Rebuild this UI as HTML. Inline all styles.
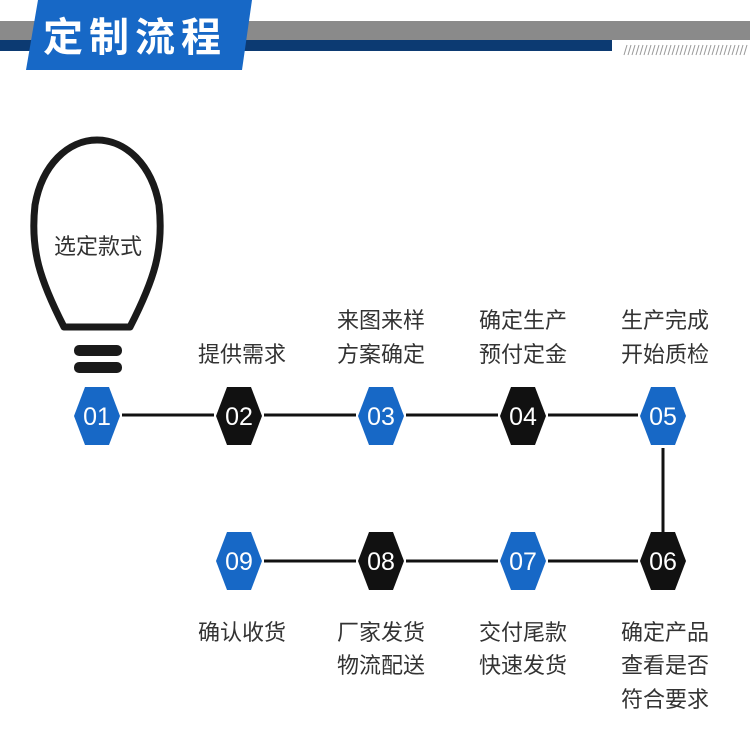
<!DOCTYPE html>
<html><head><meta charset="utf-8"><style>
body{margin:0;background:#fff;}
svg{display:block}
text{font-family:"Liberation Sans","Noto Sans CJK SC",sans-serif;}
</style></head><body>
<svg width="750" height="750" viewBox="0 0 750 750" xmlns="http://www.w3.org/2000/svg">
<rect x="0" y="21" width="750" height="19" fill="#8a8a8a"/>
<rect x="0" y="40" width="612" height="11" fill="#0c3a72"/>
<g stroke="#999" stroke-width="1">
<path d="M624 55 L627 45 M628 55 L631 45 M632 55 L635 45 M636 55 L639 45 M640 55 L643 45 M644 55 L647 45 M648 55 L651 45 M652 55 L655 45 M656 55 L659 45 M660 55 L663 45 M664 55 L667 45 M668 55 L671 45 M672 55 L675 45 M676 55 L679 45 M680 55 L683 45 M684 55 L687 45 M688 55 L691 45 M692 55 L695 45 M696 55 L699 45 M700 55 L703 45 M704 55 L707 45 M708 55 L711 45 M712 55 L715 45 M716 55 L719 45 M720 55 L723 45 M724 55 L727 45 M728 55 L731 45 M732 55 L735 45 M736 55 L739 45 M740 55 L743 45 M744 55 L747 45"/>
</g>
<polygon points="38,0 252,0 242,70 26,70" fill="#1768c6"/>
<text x="135" y="51" font-size="40" fill="#fff" text-anchor="middle" font-weight="bold" letter-spacing="6">定制流程</text>

<path d="M64 327 C40 280 30 250 35 205 C42 165 68 140 97 140 C126 140 152 165 159 205 C164 250 154 280 130 327 Z" fill="none" stroke="#1a1a1a" stroke-width="7" stroke-linejoin="round"/>
<rect x="74" y="345" width="48" height="11" rx="5" fill="#1a1a1a"/>
<rect x="74" y="362" width="48" height="11" rx="5" fill="#1a1a1a"/>
<text x="98" y="254" font-size="22" fill="#333" text-anchor="middle">选定款式</text>

<g stroke="#111" stroke-width="3">
<line x1="122" y1="415" x2="214" y2="415"/>
<line x1="264" y1="415" x2="356" y2="415"/>
<line x1="406" y1="415" x2="498" y2="415"/>
<line x1="548" y1="415" x2="638" y2="415"/>
<line x1="663" y1="448" x2="663" y2="532"/>
<line x1="264" y1="561" x2="356" y2="561"/>
<line x1="406" y1="561" x2="498" y2="561"/>
<line x1="548" y1="561" x2="638" y2="561"/>
</g>
<defs><polygon id="hx" points="-23,0 -12,-29 12,-29 23,0 12,29 -12,29"/></defs>
<use href="#hx" x="97" y="416" fill="#1768c6"/>
<use href="#hx" x="239" y="416" fill="#111"/>
<use href="#hx" x="381" y="416" fill="#1768c6"/>
<use href="#hx" x="523" y="416" fill="#111"/>
<use href="#hx" x="663" y="416" fill="#1768c6"/>
<use href="#hx" x="663" y="561" fill="#111"/>
<use href="#hx" x="523" y="561" fill="#1768c6"/>
<use href="#hx" x="381" y="561" fill="#111"/>
<use href="#hx" x="239" y="561" fill="#1768c6"/>
<g font-size="25" fill="#fff" text-anchor="middle">
<text x="97" y="425">01</text><text x="239" y="425">02</text><text x="381" y="425">03</text><text x="523" y="425">04</text><text x="663" y="425">05</text>
<text x="663" y="570">06</text><text x="523" y="570">07</text><text x="381" y="570">08</text><text x="239" y="570">09</text>
</g>
<g font-size="22" fill="#333" text-anchor="middle">
<text x="242" y="362">提供需求</text>
<text x="381" y="328">来图来样</text><text x="381" y="362">方案确定</text>
<text x="523" y="328">确定生产</text><text x="523" y="362">预付定金</text>
<text x="665" y="328">生产完成</text><text x="665" y="362">开始质检</text>
<text x="242" y="640">确认收货</text>
<text x="381" y="640">厂家发货</text><text x="381" y="673">物流配送</text>
<text x="523" y="640">交付尾款</text><text x="523" y="673">快速发货</text>
<text x="665" y="640">确定产品</text><text x="665" y="673">查看是否</text><text x="665" y="707">符合要求</text>
</g>
</svg>
</body></html>
